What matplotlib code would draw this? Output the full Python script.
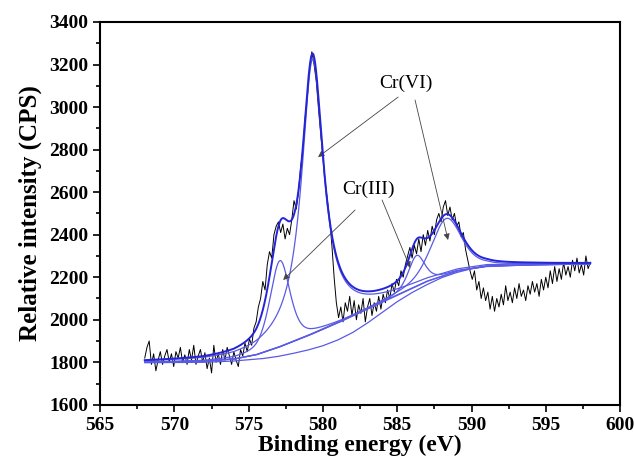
import numpy as np
import matplotlib
matplotlib.use('Agg')
import matplotlib.pyplot as plt
from matplotlib.ticker import MultipleLocator

plt.rcParams['font.family'] = ['Liberation Serif', 'DejaVu Serif']

# measured spectrum, 0.15 eV steps from 568 to 598 eV
energy = np.round(568.0 + 0.15 * np.arange(201), 2)
counts = [
    1820, 1870, 1900, 1790, 1840, 1760, 1810, 1850, 1790, 1830,
    1860, 1800, 1840, 1780, 1850, 1820, 1870, 1800, 1835, 1790,
    1860, 1810, 1880, 1790, 1830, 1860, 1800, 1845, 1770, 1820,
    1750, 1880, 1800, 1840, 1790, 1860, 1810, 1870, 1830, 1790,
    1850, 1810, 1780, 1860, 1830, 1890, 1850, 1910, 1880, 1960,
    1990, 2060, 2100, 2180, 2140, 2260, 2320, 2290, 2400, 2440,
    2460, 2410, 2450, 2380, 2430, 2400, 2470, 2560, 2520, 2600,
    2720, 2800, 2950, 3050, 3180, 3260, 3200, 3120, 2990, 2870,
    2760, 2650, 2560, 2470, 2350, 2200, 2080, 2010, 2060, 1990,
    2080, 2040, 2110, 2020, 2090, 2000, 2070, 2030, 2100, 1990,
    2060, 2100, 2020, 2080, 2040, 2110, 2050, 2120, 2080, 2140,
    2100, 2170, 2130, 2190, 2160, 2230, 2200, 2260, 2300, 2340,
    2290, 2350, 2310, 2380, 2320, 2400, 2350, 2420, 2370, 2440,
    2400, 2470, 2500, 2460, 2530, 2560, 2490, 2530, 2470, 2500,
    2440, 2460, 2390, 2410, 2330, 2280, 2230, 2190, 2230, 2140,
    2180, 2100, 2150, 2090, 2130, 2050, 2110, 2040, 2100, 2060,
    2120, 2070, 2160, 2090, 2130, 2080, 2150, 2100, 2170, 2110,
    2140, 2090, 2160, 2120, 2180, 2130, 2170, 2110, 2190, 2140,
    2200, 2150, 2230, 2170, 2250, 2180, 2240, 2190, 2270, 2210,
    2250, 2200, 2280, 2230, 2290, 2220, 2260, 2210, 2300, 2240,
    2270,
]

# background lines of the fit
bg_e = [568, 572, 574, 575.5, 577, 579, 581, 583, 585, 587, 589, 591, 594, 598]
bg_i = [1800, 1805, 1815, 1835, 1870, 1925, 1985, 2050, 2115, 2180, 2228, 2252, 2258, 2262]
base_e = [568, 572, 574, 576, 577, 578, 579, 580, 581, 582, 583, 584, 585,
          586, 587, 588, 589, 590, 591, 594, 598]
base_i = [1798, 1800, 1806, 1818, 1828, 1842, 1858, 1878, 1905, 1940, 1985,
          2035, 2085, 2128, 2165, 2198, 2222, 2240, 2250, 2258, 2262]

# fitted components: Cr(III) 2p3/2, Cr(VI) 2p3/2, Cr(III) 2p1/2, Cr(VI) 2p1/2
pk_center = [577.1, 579.3, 586.3, 588.3]
pk_height = [405, 1290, 145, 265]
pk_fwhm = [1.6, 1.78, 1.3, 2.4]
pk_lorentz = [0.5, 1.0, 0.5, 0.5]

C_FIT = '#2424d8'
C_COMP = '#5a5ae6'


def pvoigt(x, c, h, w, eta):
    lor = 1.0 / (1.0 + ((x - c) / (w / 2.0)) ** 2)
    gau = np.exp(-4.0 * np.log(2.0) * ((x - c) / w) ** 2)
    return h * (eta * lor + (1.0 - eta) * gau)


fig = plt.figure(figsize=(6.34, 4.68), dpi=100)
ax = fig.add_axes([0.158, 0.135, 0.820, 0.818])

ax.plot(energy, counts, color='black', lw=0.7, zorder=2)

xf = np.linspace(568, 598, 1201)
bg = np.interp(xf, bg_e, bg_i)
comps = [pvoigt(xf, c, h, w, e) for c, h, w, e in
         zip(pk_center, pk_height, pk_fwhm, pk_lorentz)]
ax.plot(base_e, base_i, color=C_COMP, lw=0.9, zorder=3)
ax.plot(xf, bg, color=C_COMP, lw=0.9, zorder=3)
for comp in comps:
    ax.plot(xf, bg + comp, color=C_COMP, lw=0.9, zorder=3)
ax.plot(xf, bg + np.sum(comps, axis=0), color=C_FIT, lw=1.4, zorder=4)

# labels with arrows
arrow = dict(arrowstyle='-|>', color='#444444', lw=0.6,
             mutation_scale=9, shrinkA=0, shrinkB=0)
ax.text(585.6, 3113, 'Cr(VI)', ha='center', va='center', fontsize=14)
ax.annotate('', xy=(579.67, 2765), xytext=(585.06, 3047), arrowprops=arrow)
ax.annotate('', xy=(588.42, 2375), xytext=(586.2, 3033), arrowprops=arrow)
ax.text(583.04, 2615, 'Cr(III)', ha='center', va='center', fontsize=14)
ax.annotate('', xy=(577.32, 2187), xytext=(582.16, 2516), arrowprops=arrow)
ax.annotate('', xy=(585.87, 2244), xytext=(583.98, 2563), arrowprops=arrow)

ax.set_xlim(565, 600)
ax.set_ylim(1600, 3400)
ax.xaxis.set_major_locator(MultipleLocator(5))
ax.xaxis.set_minor_locator(MultipleLocator(2.5))
ax.yaxis.set_major_locator(MultipleLocator(200))
ax.yaxis.set_minor_locator(MultipleLocator(100))
ax.tick_params(which='both', direction='out', top=False, right=False, width=1.2)
ax.tick_params(which='major', length=5, labelsize=14)
ax.tick_params(which='minor', length=3)
for lab in ax.get_xticklabels() + ax.get_yticklabels():
    lab.set_fontweight('bold')
for s in ax.spines.values():
    s.set_linewidth(1.5)

ax.set_xlabel('Binding energy (eV)', fontsize=17, fontweight='bold', labelpad=1)
ax.set_ylabel('Relative intensity (CPS)', fontsize=18, fontweight='bold', labelpad=5)

fig.savefig('out.png', dpi=100)
